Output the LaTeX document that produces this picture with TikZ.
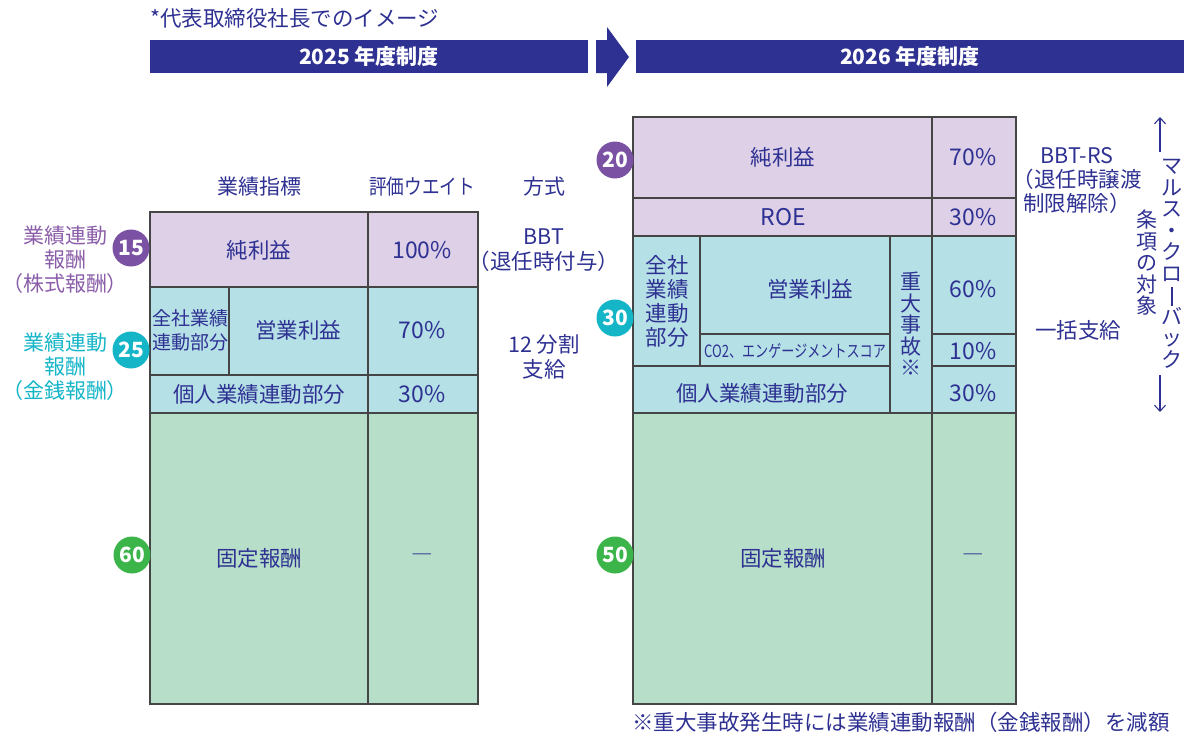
\documentclass[tikz,border=0pt]{standalone}
\usepackage{fontspec}
\setmainfont{Noto Sans CJK JP}
\usetikzlibrary{arrows.meta}
\definecolor{navy}{HTML}{2E3192}
\definecolor{lilac}{HTML}{DDD0E7}
\definecolor{aqua}{HTML}{B5E0E6}
\definecolor{mint}{HTML}{B6DEC8}
\definecolor{purp}{HTML}{7B52A3}
\definecolor{purptext}{HTML}{8A5DA8}
\definecolor{cyanball}{HTML}{15B5C8}
\definecolor{grn}{HTML}{3BB54A}
\definecolor{rulegray}{HTML}{454545}
\newcommand{\fs}[1]{\fontsize{#1}{#1}\selectfont}
\newcommand{\vbar}{\rule[-3pt]{1.4pt}{19pt}}
\tikzset{
	cell/.style={draw=rulegray, line width=1.3pt},
	lbl/.style={text=navy, font=\fs{21.5}, inner sep=0pt, align=center},
	pct/.style={lbl, font=\fs{23}},
	badge/.style={circle, fill=#1, text=white, minimum size=37pt, inner sep=0pt, font=\bfseries\fs{21}},
	vtext/.style={text=navy, inner sep=0pt, align=center, font=\fontsize{21}{21.5}\selectfont},
	barb/.style={-{Straight Barb[length=6pt, width=11pt]}, navy, line width=1.1pt}
}

\begin{document}
\begin{tikzpicture}[x=1pt, y=-1pt]
		\useasboundingbox (0, 0) rectangle (1184, 734);
		\fill [navy] (150, 40) rectangle (588, 73);
		\fill [navy] (636, 40) rectangle (1184, 73);
		\fill [navy] (596, 40) -- (607, 40) -- (607, 27) -- (629, 57) -- (607, 87) -- (607, 73) -- (596, 73) -- cycle;
		\node [lbl, text=white, font=\bfseries\fs{21}] (old) at (369, 57) {2025 年度制度};
		\node [lbl, text=white, font=\bfseries\fs{21}] (new) at (910, 57) {2026 年度制度};
		\node [lbl, font=\fs{21.5}, anchor=west] (note) at (150, 18) {*代表取締役社長でのイメージ};

		\fill [lilac] (150, 212) rectangle (478, 287);
		\fill [aqua] (150, 287) rectangle (478, 413);
		\fill [mint] (150, 413) rectangle (478, 704);
		\draw [cell] (150, 212) rectangle (478, 704);
		\draw [cell] (368, 212) -- (368, 704);
		\draw [cell] (150, 287) -- (478, 287);
		\draw [cell] (150, 375) -- (478, 375);
		\draw [cell] (150, 413) -- (478, 413);
		\draw [cell] (229, 287) -- (229, 375);

		\node [lbl, font=\fs{21}] (hkpi) at (259, 187) {業績指標};
		\node [lbl, font=\fs{21}] (hwt) at (422, 187) {\scalebox{0.84}[1]{評価ウエイト}};
		\node [lbl, font=\fs{21}] (hway) at (544, 187) {方式};
		\node [lbl] (a1) at (259, 250) {純利益};
		\node [pct] (a1w) at (422, 250) {100\%};
		\node [lbl, font=\fontsize{19}{24}\selectfont] (a2h) at (190, 330) {全社業績\\連動部分};
		\node [lbl] (a2) at (298, 330) {営業利益};
		\node [pct] (a2w) at (422, 330) {70\%};
		\node [lbl] (a3) at (259, 394) {個人業績連動部分};
		\node [pct] (a3w) at (422, 394) {30\%};
		\node [lbl] (a4) at (259, 558) {固定報酬};
		\node [lbl] (a4w) at (422, 558) {―};
		\node [lbl, font=\fontsize{21.5}{25}\selectfont] (bbt) at (544, 250) {BBT\\（退任時付与）};
		\node [lbl, font=\fontsize{21.5}{25}\selectfont] (split) at (544, 357) {12 分割\\支給};
		\node [lbl, text=purptext, font=\fontsize{21}{24}\selectfont] (stock) at (65, 260) {業績連動\\報酬\\（株式報酬）};
		\node [lbl, text=cyanball, font=\fontsize{21}{24}\selectfont] (cash) at (65, 367) {業績連動\\報酬\\（金銭報酬）};
		\node [badge=purp] (b15) at (131, 248) {15};
		\node [badge=cyanball] (b25) at (131, 350) {25};
		\node [badge=grn] (b60) at (132, 555) {60};

		\fill [lilac] (633, 117) rectangle (1016, 236);
		\fill [aqua] (633, 236) rectangle (1016, 413);
		\fill [mint] (633, 413) rectangle (1016, 704);
		\draw [cell] (633, 117) rectangle (1016, 704);
		\draw [cell] (932, 117) -- (932, 704);
		\draw [cell] (633, 198) -- (1016, 198);
		\draw [cell] (633, 236) -- (1016, 236);
		\draw [cell] (700, 334) -- (890, 334);
		\draw [cell] (932, 334) -- (1016, 334);
		\draw [cell] (633, 366) -- (890, 366);
		\draw [cell] (932, 366) -- (1016, 366);
		\draw [cell] (633, 413) -- (1016, 413);
		\draw [cell] (700, 236) -- (700, 366);
		\draw [cell] (890, 236) -- (890, 413);

		\node [lbl] (c1) at (783, 157) {純利益};
		\node [pct] (c1w) at (973, 157) {70\%};
		\node [pct] (c2) at (783, 217) {ROE};
		\node [pct] (c2w) at (973, 217) {30\%};
		\node [vtext, font=\fontsize{21.5}{24}\selectfont] (c3h) at (667, 301) {全社\\業績\\連動\\部分};
		\node [lbl] (c3) at (810, 289) {営業利益};
		\node [pct] (c3w) at (973, 289) {60\%};
		\node [lbl, font=\fs{17}] (c4) at (795, 351) {\scalebox{0.77}[1]{CO2、エンゲージメントスコア}};
		\node [pct] (c4w) at (973, 351) {10\%};
		\node [lbl] (c5) at (762, 393) {個人業績連動部分};
		\node [pct] (c5w) at (973, 393) {30\%};
		\node [vtext] (acc) at (911, 324) {重\\大\\事\\故\\※};
		\node [lbl] (c6) at (783, 558) {固定報酬};
		\node [lbl] (c6w) at (973, 558) {―};
		\node [badge=purp] (b20) at (615, 160) {20};
		\node [badge=cyanball] (b30) at (615, 318) {30};
		\node [badge=grn] (b50) at (615, 555) {50};

		\node [lbl, font=\fontsize{21.5}{24}\selectfont] (rs) at (1077, 181) {BBT-RS\\（退任時譲渡\\制限解除）};
		\node [lbl] (lump) at (1078, 330) {一括支給};
		\node [vtext] (cl) at (1147, 263) {条\\項\\の\\対\\象};
		\node [vtext] (malus) at (1172, 264) {マ\\ル\\ス\\・\\ク\\ロ\\\vbar\\バ\\ッ\\ク};
		\coordinate (up) at (1160, 117);
		\coordinate (dn) at (1160, 412);
		\draw [barb] (1160, 152) -- (up);
		\draw [barb] (1160, 375) -- (dn);
		\node [lbl, anchor=east] (foot) at (1170, 722) {※重大事故発生時には業績連動報酬（金銭報酬）を減額};
	\end{tikzpicture}
\end{document}
